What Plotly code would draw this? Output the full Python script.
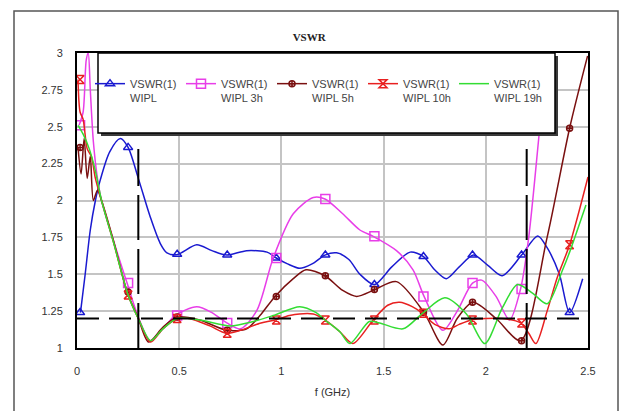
import plotly.graph_objects as go

# ---------------- data ----------------
blue_x = [0.017, 0.04, 0.065, 0.09, 0.114, 0.16, 0.212, 0.25, 0.30, 0.358, 0.407, 0.44, 0.489, 0.586, 0.66,
          0.733, 0.83, 0.93, 0.975, 1.03, 1.09, 1.15, 1.213, 1.27, 1.33, 1.384, 1.455, 1.54, 1.63, 1.695,
          1.75, 1.807, 1.87, 1.94, 2.01, 2.08, 2.175, 2.254, 2.30, 2.36, 2.41, 2.474]
blue_y = [1.24, 1.5, 1.80, 2.0, 2.14, 2.33, 2.42, 2.36, 2.15, 1.89, 1.71, 1.645, 1.633, 1.70, 1.66,
          1.63, 1.66, 1.65, 1.61, 1.57, 1.54, 1.57, 1.63, 1.645, 1.6, 1.50, 1.43, 1.55, 1.65, 1.62,
          1.53, 1.47, 1.55, 1.63, 1.56, 1.49, 1.63, 1.76, 1.68, 1.50, 1.24, 1.47]

mag_x = [0.01, 0.03, 0.045, 0.055, 0.065, 0.08, 0.1, 0.12, 0.18, 0.245, 0.30, 0.358, 0.42, 0.48, 0.586,
         0.66, 0.733, 0.80, 0.88, 0.96, 1.058, 1.156, 1.213, 1.30, 1.384, 1.449, 1.563, 1.644, 1.698,
         1.79, 1.86, 1.935, 1.98, 2.05, 2.116, 2.17, 2.21, 2.263, 2.30]
mag_y = [2.51, 2.6, 2.95, 3.0, 2.75, 2.4, 2.15, 2.0, 1.72, 1.44, 1.21, 1.05, 1.13, 1.22, 1.28,
         1.24, 1.17, 1.13, 1.255, 1.61, 1.91, 2.02, 2.01, 1.91, 1.80, 1.757, 1.66, 1.53, 1.35,
         1.12, 1.25, 1.44, 1.46, 1.35, 1.19, 1.40, 1.75, 2.48, 3.0]

brown_x = [0.005, 0.02, 0.035, 0.05, 0.065, 0.08, 0.1, 0.12, 0.18, 0.245, 0.30, 0.35, 0.42, 0.49, 0.6,
           0.733, 0.83, 0.895, 0.969, 1.058, 1.12, 1.213, 1.30, 1.368, 1.457, 1.563, 1.698, 1.79, 1.86,
           1.937, 2.05, 2.17, 2.30, 2.41, 2.498]
brown_y = [2.36, 2.18, 2.42, 2.15, 2.3, 2.0, 2.07, 2.0, 1.72, 1.38, 1.2, 1.04, 1.14, 1.21, 1.19,
           1.12, 1.13, 1.22, 1.35, 1.47, 1.53, 1.49, 1.39, 1.35, 1.396, 1.45, 1.24, 1.02, 1.2,
           1.31, 1.2, 1.05, 1.75, 2.49, 2.98]

red_x = [0.005, 0.015, 0.03, 0.05, 0.07, 0.09, 0.12, 0.18, 0.25, 0.30, 0.36, 0.42, 0.49, 0.55, 0.65,
         0.73, 0.80, 0.90, 0.97, 1.04, 1.156, 1.213, 1.286, 1.35, 1.449, 1.52, 1.579, 1.64, 1.69,
         1.75, 1.82, 1.87, 1.93, 2.0, 2.08, 2.17, 2.21, 2.245, 2.30, 2.35, 2.41, 2.5]
red_y = [2.82, 2.6, 2.55, 2.35, 2.3, 2.15, 2.0, 1.71, 1.36, 1.2, 1.04, 1.13, 1.2, 1.2, 1.15,
         1.10, 1.12, 1.17, 1.19, 1.22, 1.23, 1.19, 1.11, 1.03, 1.19, 1.29, 1.31, 1.28, 1.235,
         1.16, 1.13, 1.16, 1.19, 1.2, 1.2, 1.17, 1.1, 1.03, 1.25, 1.48, 1.7, 2.16]

green_x = [0.005, 0.03, 0.06, 0.09, 0.12, 0.18, 0.25, 0.30, 0.36, 0.42, 0.49, 0.6, 0.75, 0.863, 0.96,
           1.09, 1.17, 1.213, 1.286, 1.335, 1.43, 1.48, 1.595, 1.69, 1.80, 1.905, 1.995, 2.08, 2.155,
           2.23, 2.30, 2.376, 2.41, 2.49]
green_y = [2.51, 2.45, 2.35, 2.2, 2.0, 1.71, 1.36, 1.2, 1.05, 1.13, 1.2, 1.19, 1.15, 1.18, 1.22,
           1.28, 1.24, 1.19, 1.11, 1.03, 1.18, 1.17, 1.13, 1.235, 1.34, 1.23, 1.03, 1.27, 1.43,
           1.37, 1.30, 1.53, 1.65, 1.97]

# marker positions
mk_x = [0.015, 0.25, 0.49, 0.735, 0.975, 1.215, 1.455, 1.695, 1.935, 2.175, 2.41]
blue_mk = [1.24, 2.36, 1.635, 1.63, 1.61, 1.63, 1.43, 1.62, 1.63, 1.63, 1.24]
mag_mk = [2.51, 1.44, 1.22, 1.17, 1.61, 2.01, 1.757, 1.35, 1.44, 1.40]
brown_mk = [2.36, 1.38, 1.21, 1.12, 1.35, 1.49, 1.396, 1.24, 1.31, 1.05, 2.49]
red_mk = [2.82, 1.36, 1.2, 1.10, 1.19, 1.19, 1.19, 1.235, 1.19, 1.17, 1.7]

names = ["VSWR(1)<br>WIPL", "VSWR(1)<br>WIPL 3h", "VSWR(1)<br>WIPL 5h",
         "VSWR(1)<br>WIPL 10h", "VSWR(1)<br>WIPL 19h"]
x_ticks = [0, 0.5, 1, 1.5, 2, 2.5]
x_tick_text = ["0", "0.5", "1", "1.5", "2", "2.5"]
y_ticks = [1, 1.25, 1.5, 1.75, 2, 2.25, 2.5, 2.75, 3]
y_tick_text = ["1", "1.25", "1.5", "1.75", "2", "2.25", "2.5", "2.75", "3"]

ref_level = 1.2
band_edges = [0.3, 2.2]
band_top = 2.35

# ---------------- styles ----------------
colors = ["#1a1ad0", "#e83ee8", "#7a1010", "#e82020", "#33dd33"]
symbols = ["triangle-up-open", "square-open", "circle-cross-open", "hourglass-open", None]
sizes = [8, 9, 6, 8, 0]

fig = go.Figure()

series = [(blue_x, blue_y, blue_mk), (mag_x, mag_y, mag_mk), (brown_x, brown_y, brown_mk),
          (red_x, red_y, red_mk), (green_x, green_y, None)]

for i, (sx, sy, mk) in enumerate(series):
    fig.add_trace(go.Scatter(x=sx, y=sy, mode="lines", showlegend=False,
                             line=dict(color=colors[i], width=1.5, shape="spline", smoothing=0.8)))
    if mk is not None:
        fig.add_trace(go.Scatter(x=mk_x[:len(mk)], y=mk, mode="markers", showlegend=False,
                                 marker=dict(symbol=symbols[i], size=sizes[i], color=colors[i],
                                             line=dict(width=1.5, color=colors[i]))))

# dashed reference lines
fig.add_trace(go.Scatter(x=[0, 2.5], y=[ref_level, ref_level], mode="lines", showlegend=False,
                         line=dict(color="black", width=2, dash="22px,10px")))
for xe in band_edges:
    fig.add_trace(go.Scatter(x=[xe, xe], y=[1.0, band_top], mode="lines", showlegend=False,
                             line=dict(color="black", width=2, dash="45px,9px")))

# legend-only traces
for i in range(5):
    if symbols[i]:
        fig.add_trace(go.Scatter(x=[None], y=[None], mode="lines+markers", name=names[i],
                                 line=dict(color=colors[i], width=1.5),
                                 marker=dict(symbol=symbols[i], size=sizes[i], color=colors[i],
                                             line=dict(width=1.5, color=colors[i]))))
    else:
        fig.add_trace(go.Scatter(x=[None], y=[None], mode="lines", name=names[i],
                                 line=dict(color=colors[i], width=1.5)))

W, H = 622, 411
L, R, T, B = 77, 34, 53, 63
pw, ph = W - L - R, H - T - B


def px(x):
    return (x - L) / pw


def py(y):
    return (H - B - y) / ph


shapes = [
    # outer frame
    dict(type="rect", xref="paper", yref="paper", x0=px(14), x1=px(618), y0=py(425), y1=py(11),
         line=dict(color="#555555", width=1.5), fillcolor="rgba(0,0,0,0)", layer="below"),
    # legend shadow
    dict(type="rect", xref="paper", yref="paper", x0=px(101), x1=px(558), y0=py(136), y1=py(56),
         line=dict(width=0), fillcolor="#3a3a3a", layer="above"),
    # legend box
    dict(type="rect", xref="paper", yref="paper", x0=px(98), x1=px(555), y0=py(133), y1=py(53),
         line=dict(color="black", width=1.5), fillcolor="white", layer="above"),
]

fig.update_layout(
    width=W, height=H,
    margin=dict(l=L, r=R, t=T, b=B),
    paper_bgcolor="white", plot_bgcolor="white",
    font=dict(family="Arial, Liberation Sans, sans-serif", size=11, color="#333333"),
    title=dict(text="<b>VSWR</b>", x=px(331), xanchor="center", y=1 - 37 / H, yanchor="middle",
               font=dict(family="Times New Roman, Liberation Serif, serif", size=11, color="#222222")),
    shapes=shapes,
    legend=dict(orientation="h", x=px(90), y=py(70), xanchor="left", yanchor="top",
                bgcolor="rgba(0,0,0,0)", borderwidth=0, itemwidth=30, valign="top",
                entrywidth=46, entrywidthmode="pixels",
                font=dict(family="Arial, Liberation Sans, sans-serif", size=11, color="#444444"),
                tracegroupgap=0),
    xaxis=dict(range=[0, 2.5], tickvals=x_ticks, ticktext=x_tick_text, showgrid=True,
               gridcolor="#c4c4c4", gridwidth=1.5, zeroline=False, showline=True, mirror=True,
               linecolor="black", linewidth=2, ticks="", ticklabelstandoff=12,
               title=dict(text="f (GHz)", standoff=12, font=dict(size=11, color="#333333"))),
    yaxis=dict(range=[1, 3], tickvals=y_ticks, ticktext=y_tick_text, showgrid=True,
               gridcolor="#c4c4c4", gridwidth=1.5, zeroline=False, showline=True, mirror=True,
               linecolor="black", linewidth=2, ticks="", ticklabelstandoff=10),
)

fig.write_html("out.html", config={"displayModeBar": False},
               post_script="document.body.style.margin='0';")
